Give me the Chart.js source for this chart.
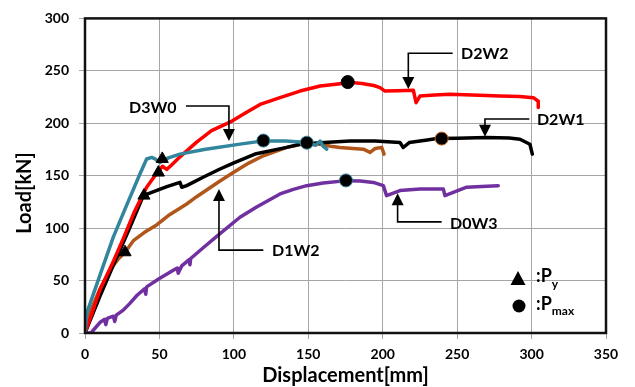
<!DOCTYPE html>
<html>
<head>
<meta charset="utf-8">
<script src="https://cdn.jsdelivr.net/npm/chart.js@4.4.1/dist/chart.umd.min.js"></script>
<style>
    html, body { margin: 0; padding: 0; background: #fff; }
    #wrap { width: 635px; height: 387px; position: relative; }
</style>
</head>
<body>
<div id="wrap"><canvas id="myChart"></canvas></div>
<script>
// curve data: displacement [mm] / load [kN]
const d2w2_x = [0, 5, 10, 18, 25.7, 33, 41.4, 46, 49.3, 52, 54.9, 58, 63.8, 75, 85, 97.4, 108, 117.6, 130, 144.4, 158, 170, 178, 186, 194, 198.2, 201.5, 210, 220.6, 222.4, 225, 235, 245.2, 260, 278.8, 292, 301.2, 304.5, 304.5];
const d2w2_y = [0, 20, 41, 65, 90, 115, 139, 148, 154, 159, 156, 160, 168, 182, 193, 201, 210, 218, 224, 230.7, 235.5, 237.5, 239, 238, 236, 234, 230.7, 231, 231.4, 219.6, 226, 227, 227.6, 227, 226, 225.5, 224.4, 221, 215];

const d3w0_x = [0, 1.1, 10, 19, 28, 36.9, 41.4, 44.8, 47, 50.4, 56, 63.8, 80, 104.1, 119.8, 135, 148.9, 155, 158, 160.1, 162.4];
const d3w0_y = [0, 18.7, 55, 91.4, 122, 151.6, 165.9, 167.4, 166, 162.6, 167, 170.6, 175, 180.1, 183.2, 183, 181.6, 179, 183, 178, 175.3];

const d2w1_x = [0, 10, 20, 30, 39.2, 44.8, 55, 63.8, 65, 68.3, 80, 90.7, 99.6, 115, 135.5, 144.4, 157.9, 178, 195, 211.6, 213.8, 217.8, 230, 236.3, 250, 269.8, 285, 292.2, 298.9, 300.5];
const d2w1_y = [0, 35, 68, 100, 131, 134, 139.5, 143.6, 139, 140.5, 149, 156.4, 162, 171, 177, 180, 181.5, 183.2, 183, 181.6, 176.9, 181.6, 184, 185.4, 185.8, 186.4, 186, 184.8, 180, 170.6];

const d1w2_x = [0, 5, 10, 16.8, 22, 26.9, 32.5, 40, 48.1, 56, 63.8, 68.3, 75, 90.7, 99.6, 110, 119.8, 135.5, 148.9, 157.9, 165, 171.3, 180, 187, 191.5, 195, 199.3, 200.9];
const d1w2_y = [8, 25, 42, 60, 70, 77, 88, 96, 103, 112, 119, 123, 130, 145, 153, 162, 169, 177, 181, 180, 178, 177, 176, 175.3, 172.2, 176, 177, 170.6];

const d0w3_x = [0, 4, 7, 10, 13, 14, 15, 19, 20, 21, 25.7, 30, 35, 40, 40.8, 41.4, 50, 59.3, 62, 62.6, 65, 70, 70.5, 71, 80, 90.7, 104.1, 115, 131, 140, 148.9, 160, 175.8, 185, 193.7, 200.4, 202.6, 211.6, 225, 240.7, 241.8, 256.4, 270, 277.6];
const d0w3_y = [0, 0, 5, 10, 13, 8, 14, 16, 11, 17, 21.8, 28, 36, 42, 37, 44, 52, 59.8, 62, 57, 64, 70, 65, 71, 82, 94.7, 110.4, 120, 132.6, 137, 140.5, 143, 145.3, 145, 143.6, 140.5, 131, 135.8, 137.4, 137.4, 131, 139, 140, 140.5];

// yield points (Py) and peak points (Pmax)
const py_x = [26.9, 39.6, 49.3, 51.9];
const py_y = [77, 131, 153, 166];
const pmax_x = [119.8, 149, 176.5, 175.3, 239.6];
const pmax_y = [183.5, 181.5, 239.3, 145.5, 185.4];

// axis ticks
const xTicks = [0, 50, 100, 150, 200, 250, 300, 350];
const yTicks = [0, 50, 100, 150, 200, 250, 300];

// labels with arrows: text anchor + arrow path (start, corner, tip)
const labelNames = ['D3W0', 'D2W2', 'D2W1', 'D1W2', 'D0W3'];
const labelAt = [[29.6, 214.6], [252.6, 265.8], [303.6, 203.2], [125.6, 77.9], [245.2, 104.4]];
const arrowPaths = [
    [[67.8, 216.5], [96.7, 216.5], [96.7, 183.2]],
    [[247, 266.8], [217.2, 266.8], [217.2, 232.6]],
    [[298.5, 204.1], [268.7, 204.1], [268.7, 187.1]],
    [[119.8, 79], [90, 79], [90, 137.4]],
    [[239.6, 106], [210, 106], [210, 133.2]],
];

const FONT = 'Lato, "Open Sans", sans-serif';

function pts(xs, ys) {
    return xs.map((x, i) => ({ x: x, y: ys[i] }));
}

function curve(label, xs, ys, color) {
    return {
        label: label,
        data: pts(xs, ys),
        borderColor: color,
        borderWidth: 3.5,
        borderJoinStyle: 'round',
        borderCapStyle: 'round',
        pointRadius: 0,
        tension: 0,
        fill: false,
    };
}

// frame, labels, arrows, y title and the little key in the corner
const extras = {
    id: 'extras',
    afterDatasetsDraw(chart) {
        const ctx = chart.ctx;
        const xs = chart.scales.x;
        const ys = chart.scales.y;
        const a = chart.chartArea;
        ctx.save();

        // plot frame
        ctx.strokeStyle = '#111';
        ctx.lineWidth = 2.5;
        ctx.strokeRect(a.left, a.top, a.right - a.left, a.bottom - a.top);

        // y axis title (sits a bit below the middle in the original)
        ctx.save();
        ctx.translate(25, 193);
        ctx.rotate(-Math.PI / 2);
        ctx.font = 'bold 20px ' + FONT;
        ctx.fillStyle = '#000';
        ctx.textAlign = 'center';
        ctx.textBaseline = 'middle';
        ctx.fillText('Load[kN]', 0, 0);
        ctx.restore();

        // arrows
        ctx.strokeStyle = '#000';
        ctx.fillStyle = '#000';
        ctx.lineWidth = 1.6;
        arrowPaths.forEach(p => {
            const q = p.map(v => [xs.getPixelForValue(v[0]), ys.getPixelForValue(v[1])]);
            const tip = q[2];
            const dir = tip[1] > q[1][1] ? 1 : -1;
            ctx.beginPath();
            ctx.moveTo(q[0][0], q[0][1]);
            ctx.lineTo(q[1][0], q[1][1]);
            ctx.lineTo(tip[0], tip[1] - dir * 10);
            ctx.stroke();
            ctx.beginPath();
            ctx.moveTo(tip[0], tip[1]);
            ctx.lineTo(tip[0] - 6, tip[1] - dir * 12);
            ctx.lineTo(tip[0] + 6, tip[1] - dir * 12);
            ctx.closePath();
            ctx.fill();
        });

        // series names
        ctx.font = 'bold 16px ' + FONT;
        ctx.textAlign = 'left';
        ctx.textBaseline = 'middle';
        labelNames.forEach((t, i) => {
            ctx.fillText(t, xs.getPixelForValue(labelAt[i][0]), ys.getPixelForValue(labelAt[i][1]));
        });

        // key: triangle = Py, circle = Pmax
        const kx = a.right - 88;
        const ky1 = a.bottom - 54;
        const ky2 = a.bottom - 27;
        ctx.beginPath();
        ctx.moveTo(kx, ky1 - 8);
        ctx.lineTo(kx - 7.5, ky1 + 6);
        ctx.lineTo(kx + 7.5, ky1 + 6);
        ctx.closePath();
        ctx.fill();
        ctx.beginPath();
        ctx.arc(kx + 1, ky2, 6.5, 0, Math.PI * 2);
        ctx.fill();

        ctx.font = 'bold 18px ' + FONT;
        ctx.fillText(':P', kx + 18, ky1 - 3);
        ctx.fillText(':P', kx + 18, ky2 - 2);
        const pw = ctx.measureText(':P').width;
        ctx.font = 'bold 12px ' + FONT;
        ctx.fillText('y', kx + 18 + pw, ky1 + 5);
        ctx.fillText('max', kx + 18 + pw, ky2 + 5);

        ctx.restore();
    }
};

const datasets = [
    {
        label: 'Py',
        data: pts(py_x, py_y),
        showLine: false,
        pointStyle: 'triangle',
        pointRadius: 7,
        backgroundColor: '#000',
        borderColor: '#000',
        borderWidth: 1,
    },
    {
        label: 'Pmax',
        data: pts(pmax_x, pmax_y),
        showLine: false,
        pointStyle: 'circle',
        pointRadius: 6.5,
        backgroundColor: '#000',
        borderColor: ['#31859c', '#31859c', '#000', '#31859c', '#c0661f'],
        borderWidth: 1,
    },
    curve('D3W0', d3w0_x, d3w0_y, '#31859c'),
    curve('D2W2', d2w2_x, d2w2_y, '#ff0000'),
    curve('D2W1', d2w1_x, d2w1_y, '#000000'),
    curve('D1W2', d1w2_x, d1w2_y, '#b0561a'),
    curve('D0W3', d0w3_x, d0w3_y, '#7030a0'),
];

const ctx = document.getElementById('myChart').getContext('2d');
const myChart = new Chart(ctx, {
    type: 'line',
    data: { datasets: datasets },
    options: {
        responsive: true,
        maintainAspectRatio: false,
        animation: false,
        events: [],
        layout: { padding: { top: 17, right: 29, left: 0, bottom: 0 } },
        plugins: {
            legend: { display: false },
            tooltip: { enabled: false },
        },
        scales: {
            x: {
                type: 'linear',
                min: 0,
                max: 350,
                afterBuildTicks: (s) => { s.ticks = xTicks.map(v => ({ value: v })); },
                afterFit: (s) => { s.height = 54; },
                grid: { color: '#a6a6a6', lineWidth: 1, tickLength: 6 },
                border: { display: false },
                ticks: {
                    padding: 7,
                    color: '#000',
                    font: { family: FONT, size: 14, weight: 'bold' },
                },
                title: {
                    display: true,
                    text: 'Displacement[mm]',
                    color: '#000',
                    padding: { top: 0, bottom: -1 },
                    font: { family: FONT, size: 20, weight: 'bold' },
                },
            },
            y: {
                type: 'linear',
                min: 0,
                max: 300,
                afterBuildTicks: (s) => { s.ticks = yTicks.map(v => ({ value: v })); },
                afterFit: (s) => { s.width = 85; },
                grid: { color: '#a6a6a6', lineWidth: 1, tickLength: 6 },
                border: { display: false },
                ticks: {
                    padding: 10,
                    color: '#000',
                    font: { family: FONT, size: 14, weight: 'bold' },
                },
                title: { display: false },
            },
        },
    },
    plugins: [extras],
});
</script>
</body>
</html>
